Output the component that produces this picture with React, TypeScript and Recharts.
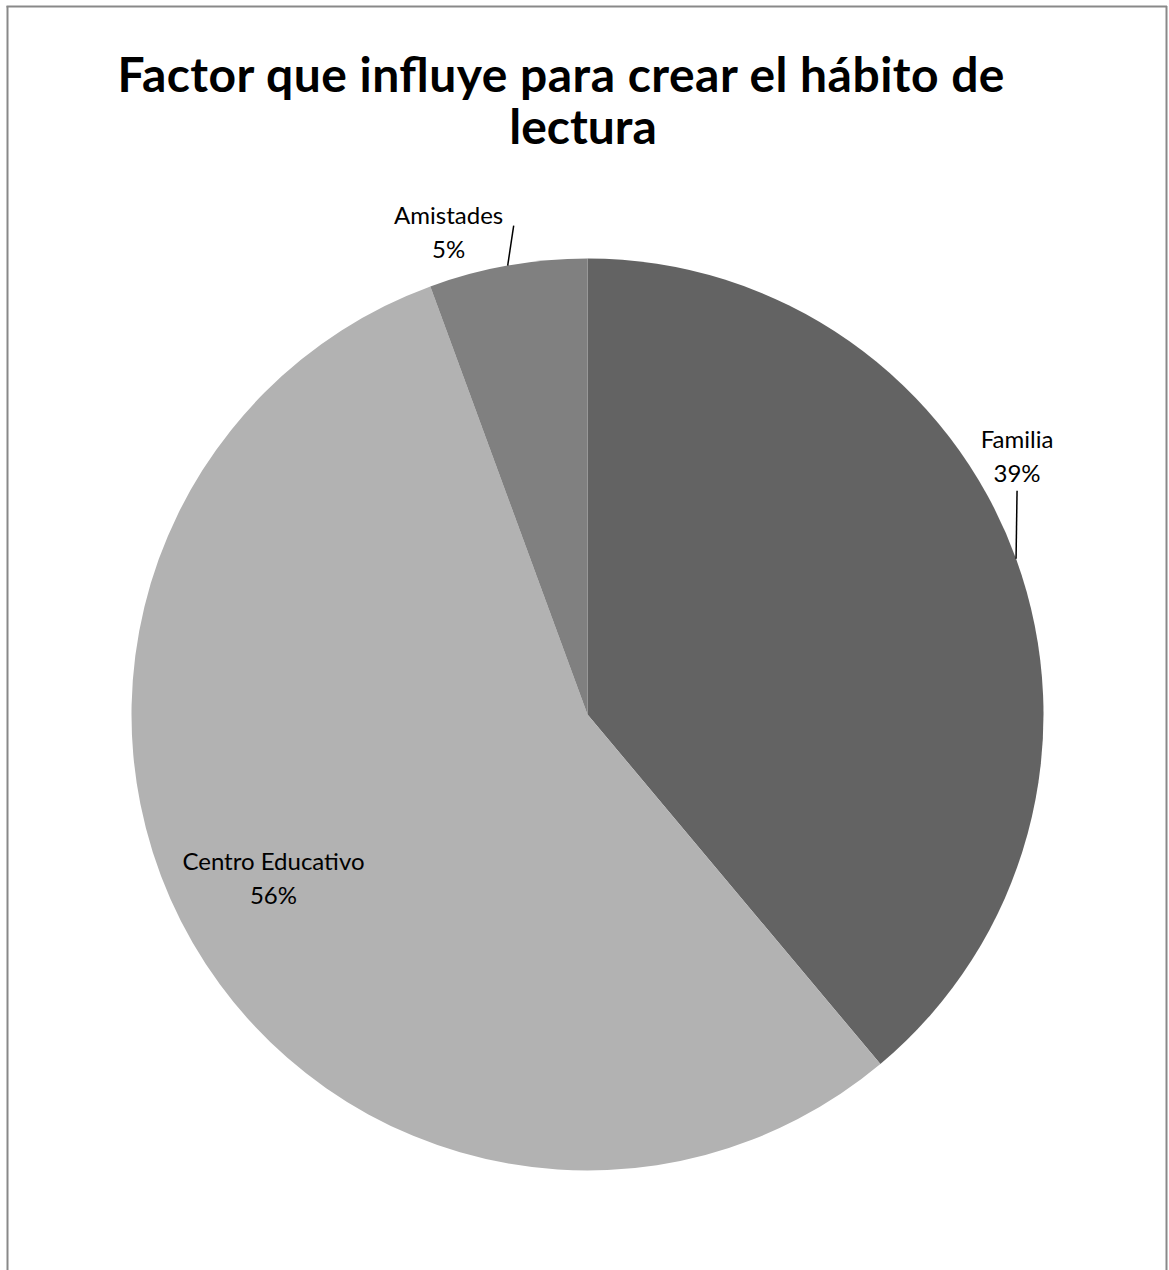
import { PieChart, Pie, Cell } from 'recharts';

// Categories, slice shares and printed percentages
const categories = ['Familia', 'Centro Educativo', 'Amistades'];
const shares = [38.9, 55.5, 5.6];
const percentLabels = ['39%', '56%', '5%'];
const sliceColors = ['#636363', '#b2b2b2', '#808080'];

const data = categories.map((name, i) => ({ name, value: shares[i], pct: percentLabels[i] }));

const FONT = 'Lato, "Open Sans", sans-serif';
const RAD = Math.PI / 180;

// per-slice label placement relative to the slice edge point
const labelLayout = [
  { kind: 'leader', lineEnd: [1, -68], text: [1, -119] },
  { kind: 'inside', radiusFactor: 0.75, text: [-18, -24] },
  { kind: 'leader', lineEnd: [6, -40], text: [-59, -50] },
];

function renderLabel(props: any) {
  const { cx, cy, midAngle, outerRadius, index } = props;
  const layout = labelLayout[index];
  const d = data[index];
  const r = layout.kind === 'inside' ? outerRadius * (layout.radiusFactor as number) : outerRadius;
  const ex = cx + r * Math.cos(-midAngle * RAD);
  const ey = cy + r * Math.sin(-midAngle * RAD);
  const tx = ex + layout.text[0];
  const ty = ey + layout.text[1];
  return (
    <g>
      {layout.kind === 'leader' && layout.lineEnd && (
        <line
          x1={ex}
          y1={ey}
          x2={ex + layout.lineEnd[0]}
          y2={ey + layout.lineEnd[1]}
          stroke="#000"
          strokeWidth={1.5}
        />
      )}
      <text x={tx} y={ty} textAnchor="middle" fontFamily={FONT} fontSize={24} fill="#000">
        <tspan x={tx} dy={8}>{d.name}</tspan>
        <tspan x={tx} dy={34}>{d.pct}</tspan>
      </text>
    </g>
  );
}

export default function App() {
  return (
    <div style={{ position: 'absolute', left: 0, top: 0, width: 1169, height: 1270, background: '#fff', overflow: 'hidden' }}>
      <div style={{ position: 'absolute', left: 0, top: 0 }}>
        <PieChart width={1169} height={1270} margin={{ top: 0, right: 0, bottom: 0, left: 0 }}>
          <Pie
            data={data}
            dataKey="value"
            nameKey="name"
            cx={587.5}
            cy={714.5}
            outerRadius={456}
            startAngle={90}
            endAngle={-270}
            stroke="none"
            label={renderLabel}
            labelLine={false}
            isAnimationActive={false}
          >
            {data.map((d, i) => (
              <Cell key={d.name} fill={sliceColors[i]} />
            ))}
          </Pie>
        </PieChart>
      </div>
      <svg width={1169} height={1270} style={{ position: 'absolute', left: 0, top: 0, pointerEvents: 'none' }}>
        {/* outer frame, open at the bottom */}
        <line x1={7.5} y1={6} x2={7.5} y2={1270} stroke="#898989" strokeWidth={2} />
        <line x1={6.5} y1={6.5} x2={1167} y2={6.5} stroke="#898989" strokeWidth={2} />
        <line x1={1166.5} y1={6} x2={1166.5} y2={1270} stroke="#898989" strokeWidth={2} />
        <text x={561} y={92} textAnchor="middle" fontFamily={FONT} fontWeight={700} fontSize={48} textLength={887} fill="#000">
          Factor que influye para crear el hábito de
        </text>
        <text x={583} y={144} textAnchor="middle" fontFamily={FONT} fontWeight={700} fontSize={48} fill="#000">
          lectura
        </text>
      </svg>
    </div>
  );
}
